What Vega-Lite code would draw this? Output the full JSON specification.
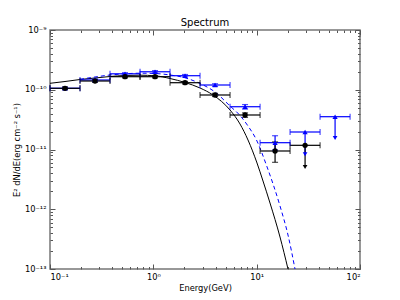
{
  "$schema": "https://vega.github.io/schema/vega-lite/v6.json",
  "width": 310,
  "height": 239,
  "autosize": "none",
  "padding": {"left": 50, "top": 30, "right": 40, "bottom": 31},
  "title": {"text": "Spectrum", "fontSize": 10, "font": "DejaVu Sans", "fontWeight": "normal", "offset": -3, "anchor": "middle", "color": "#000000"},
  "datasets": {
    "curves": [
      {"model": "A", "E": 0.1, "F": 1.282e-10},
      {"model": "A", "E": 0.1397, "F": 1.374e-10},
      {"model": "A", "E": 0.1951, "F": 1.484e-10},
      {"model": "A", "E": 0.2726, "F": 1.573e-10},
      {"model": "A", "E": 0.3808, "F": 1.666e-10},
      {"model": "A", "E": 0.5319, "F": 1.732e-10},
      {"model": "A", "E": 0.743, "F": 1.752e-10},
      {"model": "A", "E": 1.0379, "F": 1.712e-10},
      {"model": "A", "E": 1.4499, "F": 1.5425e-10},
      {"model": "A", "E": 2.0255, "F": 1.3225e-10},
      {"model": "A", "E": 2.829, "F": 1.0698e-10},
      {"model": "A", "E": 3.7806, "F": 8.17e-11},
      {"model": "A", "E": 5.521, "F": 4.582e-11},
      {"model": "A", "E": 6.899, "F": 2.672e-11},
      {"model": "A", "E": 8.2456, "F": 1.4421e-11},
      {"model": "A", "E": 10.076, "F": 5.944e-12},
      {"model": "A", "E": 11.517, "F": 2.97e-12},
      {"model": "A", "E": 13.46, "F": 1.272e-12},
      {"model": "A", "E": 16.823, "F": 3.432e-13},
      {"model": "A", "E": 20.1, "F": 1.0e-13},
      {"model": "B", "E": 0.1951, "F": 1.496e-10},
      {"model": "B", "E": 0.2726, "F": 1.6345e-10},
      {"model": "B", "E": 0.3808, "F": 1.7655e-10},
      {"model": "B", "E": 0.5319, "F": 1.849e-10},
      {"model": "B", "E": 0.743, "F": 1.892e-10},
      {"model": "B", "E": 1.0379, "F": 1.8706e-10},
      {"model": "B", "E": 1.4499, "F": 1.7655e-10},
      {"model": "B", "E": 2.0255, "F": 1.585e-10},
      {"model": "B", "E": 2.829, "F": 1.272e-10},
      {"model": "B", "E": 3.9528, "F": 9.17e-11},
      {"model": "B", "E": 5.521, "F": 5.346e-11},
      {"model": "B", "E": 6.899, "F": 3.707e-11},
      {"model": "B", "E": 8.2456, "F": 2.4735e-11},
      {"model": "B", "E": 9.854, "F": 1.4986e-11},
      {"model": "B", "E": 12.51, "F": 5.295e-12},
      {"model": "B", "E": 16.823, "F": 1.1334e-12},
      {"model": "B", "E": 20.1, "F": 3.707e-13},
      {"model": "B", "E": 23.5, "F": 1.0e-13}
    ],
    "points": [
      {"series": "B", "E": 0.1397, "elo": 0.1, "ehi": 0.1952, "F": 1.06e-10, "flo": 1.01e-10, "fhi": 1.11e-10, "ul": false},
      {"series": "B", "E": 0.2727, "elo": 0.1952, "ehi": 0.3809, "F": 1.456e-10, "flo": 1.39e-10, "fhi": 1.52e-10, "ul": false},
      {"series": "B", "E": 0.5321, "elo": 0.3809, "ehi": 0.7435, "F": 1.849e-10, "flo": 1.77e-10, "fhi": 1.93e-10, "ul": false},
      {"series": "B", "E": 1.0385, "elo": 0.7435, "ehi": 1.451, "F": 2.0e-10, "flo": 1.91e-10, "fhi": 2.09e-10, "ul": false},
      {"series": "B", "E": 2.027, "elo": 1.451, "ehi": 2.831, "F": 1.718e-10, "flo": 1.64e-10, "fhi": 1.80e-10, "ul": false},
      {"series": "B", "E": 3.956, "elo": 2.831, "ehi": 5.526, "F": 1.201e-10, "flo": 1.14e-10, "fhi": 1.26e-10, "ul": false},
      {"series": "B", "E": 7.721, "elo": 5.526, "ehi": 10.79, "F": 5.2e-11, "flo": 4.75e-11, "fhi": 5.65e-11, "ul": false},
      {"series": "B", "E": 15.07, "elo": 10.79, "ehi": 21.05, "F": 1.3e-11, "flo": 9.8e-12, "fhi": 1.7e-11, "ul": false},
      {"series": "B", "E": 29.41, "elo": 21.05, "ehi": 41.08, "F": 1.963e-11, "flo": 8.3e-12, "fhi": 1.963e-11, "ul": true},
      {"series": "B", "E": 57.39, "elo": 41.08, "ehi": 80.17, "F": 3.54e-11, "flo": 1.56e-11, "fhi": 3.54e-11, "ul": true},
      {"series": "A", "E": 0.1397, "elo": 0.1, "ehi": 0.1952, "F": 1.057e-10, "flo": 1.0e-10, "fhi": 1.11e-10, "ul": false},
      {"series": "A", "E": 0.2727, "elo": 0.1952, "ehi": 0.3809, "F": 1.401e-10, "flo": 1.33e-10, "fhi": 1.47e-10, "ul": false},
      {"series": "A", "E": 0.5321, "elo": 0.3809, "ehi": 0.7435, "F": 1.654e-10, "flo": 1.58e-10, "fhi": 1.73e-10, "ul": false},
      {"series": "A", "E": 1.0385, "elo": 0.7435, "ehi": 1.451, "F": 1.654e-10, "flo": 1.58e-10, "fhi": 1.73e-10, "ul": false},
      {"series": "A", "E": 2.027, "elo": 1.451, "ehi": 2.831, "F": 1.312e-10, "flo": 1.25e-10, "fhi": 1.38e-10, "ul": false},
      {"series": "A", "E": 3.956, "elo": 2.831, "ehi": 5.526, "F": 8.17e-11, "flo": 7.7e-11, "fhi": 8.7e-11, "ul": false},
      {"series": "A", "E": 7.721, "elo": 5.526, "ehi": 10.79, "F": 3.78e-11, "flo": 3.45e-11, "fhi": 4.1e-11, "ul": false},
      {"series": "A", "E": 15.07, "elo": 10.79, "ehi": 21.05, "F": 9.44e-12, "flo": 6.1e-12, "fhi": 1.34e-11, "ul": false},
      {"series": "A", "E": 29.41, "elo": 21.05, "ehi": 41.08, "F": 1.175e-11, "flo": 5.09e-12, "fhi": 1.175e-11, "ul": true}
    ]
  },
  "layer": [
    {
      "data": {"name": "curves"},
      "transform": [{"filter": "datum.model == 'A'"}],
      "mark": {"type": "line", "color": "#000000", "strokeWidth": 1, "clip": true, "interpolate": "monotone"},
      "encoding": {
        "x": {"field": "E", "type": "quantitative", "scale": {"type": "log", "domain": [0.1, 100], "nice": false},
          "axis": {"orient": "bottom", "values": [0.1, 1, 10, 100], "title": "Energy(GeV)", "tickSize": -5, "labelPadding": 8, "titlePadding": 3,
            "labelExpr": "datum.value < 0.5 ? '10⁻¹' : datum.value < 5 ? '10⁰' : datum.value < 50 ? '10¹' : '10²'"}},
        "y": {"field": "F", "type": "quantitative", "scale": {"type": "log", "domain": [1e-13, 1e-9], "nice": false},
          "axis": {"orient": "left", "values": [1e-13, 1e-12, 1e-11, 1e-10, 1e-9], "title": "E² dN/dE(erg cm⁻² s⁻¹)", "tickSize": -5, "labelPadding": 9, "titlePadding": 3,
            "labelExpr": "datum.value < 5e-13 ? '10⁻¹³' : datum.value < 5e-12 ? '10⁻¹²' : datum.value < 5e-11 ? '10⁻¹¹' : datum.value < 5e-10 ? '10⁻¹⁰' : '10⁻⁹'"}}
      }
    },
    {
      "data": {"name": "curves"},
      "transform": [{"filter": "datum.model == 'B'"}],
      "mark": {"type": "line", "color": "#0000ff", "strokeWidth": 1, "strokeDash": [4, 3], "clip": true, "interpolate": "monotone"},
      "encoding": {
        "x": {"field": "E", "type": "quantitative", "scale": {"type": "log", "domain": [0.1, 100], "nice": false},
          "axis": {"orient": "bottom", "values": [0.2, 0.3, 0.4, 0.5, 0.6, 0.7, 0.8, 0.9, 2, 3, 4, 5, 6, 7, 8, 9, 20, 30, 40, 50, 60, 70, 80, 90], "labels": false, "title": null, "tickSize": -2.5}},
        "y": {"field": "F", "type": "quantitative", "scale": {"type": "log", "domain": [1e-13, 1e-9], "nice": false},
          "axis": {"orient": "left", "values": [2e-13, 3e-13, 4e-13, 5e-13, 6e-13, 7e-13, 8e-13, 9e-13, 2e-12, 3e-12, 4e-12, 5e-12, 6e-12, 7e-12, 8e-12, 9e-12, 2e-11, 3e-11, 4e-11, 5e-11, 6e-11, 7e-11, 8e-11, 9e-11, 2e-10, 3e-10, 4e-10, 5e-10, 6e-10, 7e-10, 8e-10, 9e-10], "labels": false, "title": null, "tickSize": -2.5}}
      }
    },
    {
      "data": {"name": "points"},
      "mark": {"type": "rule", "strokeWidth": 1.2},
      "encoding": {
        "x": {"field": "elo", "type": "quantitative", "scale": {"type": "log", "domain": [0.1, 100], "nice": false},
          "axis": {"orient": "top", "values": [0.1, 1, 10, 100], "labels": false, "title": null, "tickSize": -5}},
        "x2": {"field": "ehi"},
        "y": {"field": "F", "type": "quantitative", "scale": {"type": "log", "domain": [1e-13, 1e-9], "nice": false},
          "axis": {"orient": "right", "values": [1e-13, 1e-12, 1e-11, 1e-10, 1e-9], "labels": false, "title": null, "tickSize": -5}},
        "color": {"field": "series", "type": "nominal", "scale": {"domain": ["A", "B"], "range": ["#000000", "#0000ff"]}, "legend": null}
      }
    },
    {
      "data": {"name": "points"},
      "mark": {"type": "tick", "orient": "vertical", "size": 6, "thickness": 1.2},
      "encoding": {
        "x": {"field": "elo", "type": "quantitative", "scale": {"type": "log", "domain": [0.1, 100], "nice": false},
          "axis": {"orient": "top", "values": [0.2, 0.3, 0.4, 0.5, 0.6, 0.7, 0.8, 0.9, 2, 3, 4, 5, 6, 7, 8, 9, 20, 30, 40, 50, 60, 70, 80, 90], "labels": false, "title": null, "tickSize": -2.5}},
        "y": {"field": "F", "type": "quantitative", "scale": {"type": "log", "domain": [1e-13, 1e-9], "nice": false},
          "axis": {"orient": "right", "values": [2e-13, 3e-13, 4e-13, 5e-13, 6e-13, 7e-13, 8e-13, 9e-13, 2e-12, 3e-12, 4e-12, 5e-12, 6e-12, 7e-12, 8e-12, 9e-12, 2e-11, 3e-11, 4e-11, 5e-11, 6e-11, 7e-11, 8e-11, 9e-11, 2e-10, 3e-10, 4e-10, 5e-10, 6e-10, 7e-10, 8e-10, 9e-10], "labels": false, "title": null, "tickSize": -2.5}},
        "color": {"field": "series", "type": "nominal", "scale": {"domain": ["A", "B"], "range": ["#000000", "#0000ff"]}, "legend": null}
      }
    },
    {
      "data": {"name": "points"},
      "mark": {"type": "tick", "orient": "vertical", "size": 6, "thickness": 1.2},
      "encoding": {
        "x": {"field": "ehi", "type": "quantitative", "scale": {"type": "log", "domain": [0.1, 100], "nice": false}, "axis": null},
        "y": {"field": "F", "type": "quantitative", "scale": {"type": "log", "domain": [1e-13, 1e-9], "nice": false}, "axis": null},
        "color": {"field": "series", "type": "nominal", "scale": {"domain": ["A", "B"], "range": ["#000000", "#0000ff"]}, "legend": null}
      }
    },
    {
      "data": {"name": "points"},
      "mark": {"type": "rule", "strokeWidth": 1.2},
      "encoding": {
        "x": {"field": "E", "type": "quantitative", "scale": {"type": "log", "domain": [0.1, 100], "nice": false}, "axis": null},
        "y": {"field": "flo", "type": "quantitative", "scale": {"type": "log", "domain": [1e-13, 1e-9], "nice": false}, "axis": null},
        "y2": {"field": "fhi"},
        "color": {"field": "series", "type": "nominal", "scale": {"domain": ["A", "B"], "range": ["#000000", "#0000ff"]}, "legend": null}
      }
    },
    {
      "data": {"name": "points"},
      "transform": [{"filter": "!datum.ul"}],
      "mark": {"type": "tick", "orient": "horizontal", "size": 6, "thickness": 1.2},
      "encoding": {
        "x": {"field": "E", "type": "quantitative", "scale": {"type": "log", "domain": [0.1, 100], "nice": false}, "axis": null},
        "y": {"field": "fhi", "type": "quantitative", "scale": {"type": "log", "domain": [1e-13, 1e-9], "nice": false}, "axis": null},
        "color": {"field": "series", "type": "nominal", "scale": {"domain": ["A", "B"], "range": ["#000000", "#0000ff"]}, "legend": null}
      }
    },
    {
      "data": {"name": "points"},
      "transform": [{"filter": "!datum.ul"}],
      "mark": {"type": "tick", "orient": "horizontal", "size": 6, "thickness": 1.2},
      "encoding": {
        "x": {"field": "E", "type": "quantitative", "scale": {"type": "log", "domain": [0.1, 100], "nice": false}, "axis": null},
        "y": {"field": "flo", "type": "quantitative", "scale": {"type": "log", "domain": [1e-13, 1e-9], "nice": false}, "axis": null},
        "color": {"field": "series", "type": "nominal", "scale": {"domain": ["A", "B"], "range": ["#000000", "#0000ff"]}, "legend": null}
      }
    },
    {
      "data": {"name": "points"},
      "transform": [{"filter": "datum.ul"}],
      "mark": {"type": "point", "shape": "triangle-down", "filled": true, "size": 22, "opacity": 1},
      "encoding": {
        "x": {"field": "E", "type": "quantitative", "scale": {"type": "log", "domain": [0.1, 100], "nice": false}, "axis": null},
        "y": {"field": "flo", "type": "quantitative", "scale": {"type": "log", "domain": [1e-13, 1e-9], "nice": false}, "axis": null},
        "color": {"field": "series", "type": "nominal", "scale": {"domain": ["A", "B"], "range": ["#000000", "#0000ff"]}, "legend": null}
      }
    },
    {
      "data": {"name": "points"},
      "mark": {"type": "point", "filled": true, "opacity": 1, "size": 28},
      "encoding": {
        "x": {"field": "E", "type": "quantitative", "scale": {"type": "log", "domain": [0.1, 100], "nice": false}, "axis": null},
        "y": {"field": "F", "type": "quantitative", "scale": {"type": "log", "domain": [1e-13, 1e-9], "nice": false}, "axis": null},
        "color": {"field": "series", "type": "nominal", "scale": {"domain": ["A", "B"], "range": ["#000000", "#0000ff"]}, "legend": null},
        "shape": {"field": "series", "type": "nominal", "scale": {"domain": ["A", "B"], "range": ["circle", "triangle-up"]}, "legend": null}
      }
    }
  ],
  "resolve": {"axis": {"x": "independent", "y": "independent"}},
  "config": {
    "view": {"stroke": "#777777", "strokeWidth": 1.5},
    "axis": {
      "domain": false, "grid": false, "tickColor": "#555555", "tickWidth": 1,
      "labelFont": "DejaVu Sans", "labelFontSize": 8.3, "labelColor": "#000000",
      "titleFont": "DejaVu Sans", "titleFontSize": 8.3, "titleFontWeight": "normal", "titleColor": "#000000"
    }
  }
}
